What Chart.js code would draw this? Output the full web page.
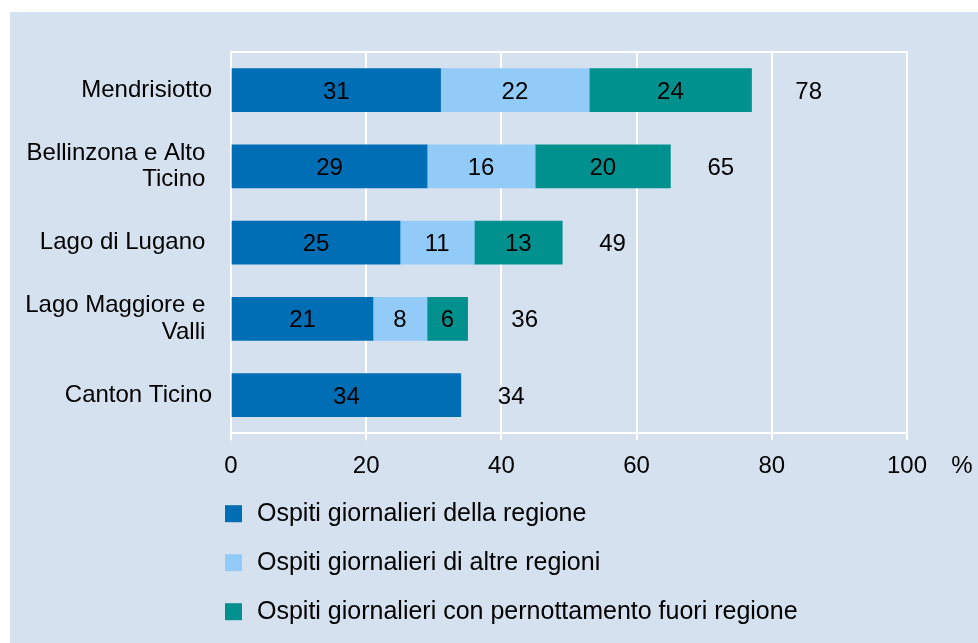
<!DOCTYPE html>
<html>
<head>
<meta charset="utf-8">
<script src="https://cdn.jsdelivr.net/npm/chart.js@4.4.1/dist/chart.umd.min.js"></script>
<style>
  html, body { margin: 0; padding: 0; background: #ffffff; }
  #box {
    position: absolute; left: 10px; top: 12px;
    width: 968px; height: 631px;
    background: #d5e1ef;
  }
</style>
</head>
<body>
<div id="box"><canvas id="chart" width="968" height="631"></canvas></div>
<script>
// categories (trailing spaces as in the original layout)
var regions = [
  'Mendrisiotto',
  ['Bellinzona e Alto ', 'Ticino '],
  'Lago di Lugano ',
  ['Lago Maggiore e ', 'Valli '],
  'Canton Ticino'
];

// series values (%)
var ospitiRegione = [31, 29, 25, 21, 34];
var ospitiAltreRegioni = [22, 16, 11, 8, null];
var ospitiPernottamento = [24, 20, 13, 6, null];
// totals as printed (rounded from unrounded parts)
var totals = [78, 65, 49, 36, 34];

var seriesLabels = [
  'Ospiti giornalieri della regione',
  'Ospiti giornalieri di altre regioni',
  'Ospiti giornalieri con pernottamento fuori regione'
];
var seriesColors = ['#006eb4', '#92cbf7', '#00918f'];

var xTicks = [0, 20, 40, 60, 80, 100];

var FONT = "'Liberation Sans', Arial, Helvetica, sans-serif";

// values inside the segments, totals after the bar, '%' unit and legend
var labelsPlugin = {
  id: 'labels',
  afterDraw: function (chart) {
    var ctx = chart.ctx;
    var area = chart.chartArea;
    var xScale = chart.scales.x;
    ctx.save();
    ctx.font = '24px ' + FONT;
    ctx.fillStyle = '#000';
    ctx.textBaseline = 'middle';

    // segment values
    ctx.textAlign = 'center';
    chart.data.datasets.forEach(function (ds, i) {
      var meta = chart.getDatasetMeta(i);
      meta.data.forEach(function (bar, j) {
        var v = ds.data[j];
        if (v == null) return;
        ctx.fillText(String(v), (bar.x + bar.base) / 2, bar.y + 2);
      });
    });

    // totals
    ctx.textAlign = 'left';
    var first = chart.getDatasetMeta(0);
    totals.forEach(function (t, j) {
      ctx.fillText(String(t), xScale.getPixelForValue(t) + 37, first.data[j].y + 2);
    });

    // unit
    ctx.textAlign = 'center';
    ctx.fillText('%', area.right + 55, area.bottom + 33);

    // legend
    ctx.textAlign = 'left';
    ctx.font = '25px ' + FONT;
    chart.data.datasets.forEach(function (ds, i) {
      var cy = area.bottom + 80 + i * 49;
      ctx.fillStyle = ds.backgroundColor;
      ctx.fillRect(area.left - 6, cy - 8, 17, 17);
      ctx.fillStyle = '#000';
      ctx.fillText(ds.label, area.left + 26, cy + 1);
    });
    ctx.restore();
  }
};

new Chart(document.getElementById('chart').getContext('2d'), {
  type: 'bar',
  data: {
    labels: regions,
    datasets: [
      { label: seriesLabels[0], data: ospitiRegione, backgroundColor: seriesColors[0] },
      { label: seriesLabels[1], data: ospitiAltreRegioni, backgroundColor: seriesColors[1] },
      { label: seriesLabels[2], data: ospitiPernottamento, backgroundColor: seriesColors[2] }
    ]
  },
  options: {
    indexAxis: 'y',
    responsive: false,
    animation: false,
    barThickness: 43,
    layout: { padding: { left: 10, right: 71, top: 32, bottom: 150 } },
    scales: {
      x: {
        stacked: true,
        min: 0,
        max: 100,
        afterBuildTicks: function (scale) {
          scale.ticks = xTicks.map(function (v) { return { value: v }; });
        },
        grid: { color: '#ffffff', lineWidth: 2, tickLength: 7, tickColor: '#ffffff' },
        border: { color: '#ffffff', width: 2 },
        ticks: { color: '#000', padding: 12, font: { family: FONT, size: 24 } }
      },
      x2: {
        type: 'linear',
        axis: 'x',
        position: 'top',
        min: 0,
        max: 100,
        grid: { display: false },
        ticks: { display: false },
        border: { display: true, color: '#ffffff', width: 2 }
      },
      y: {
        stacked: true,
        afterFit: function (scale) { scale.width = 211; },
        grid: { display: false, drawTicks: false },
        border: { display: false },
        ticks: { color: '#000', padding: 19, font: { family: FONT, size: 24, lineHeight: 1.1 } }
      }
    },
    plugins: {
      legend: { display: false },
      tooltip: { enabled: false }
    }
  },
  plugins: [labelsPlugin]
});
</script>
</body>
</html>
